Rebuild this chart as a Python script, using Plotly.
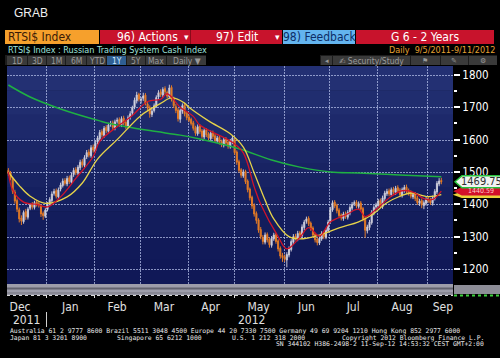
import numpy as np
import pandas as pd
import plotly.graph_objects as go

# ---------------- data ----------------
trade_dates = pd.bdate_range("2011-12-07", "2012-09-11") + pd.Timedelta(hours=12)

opens = [
    1505,1497,1478,1438,1412,1383,1358,1346,1378,1360,1388,1400,1390,1407,1402,1396,1372,1363,
    1384,1402,1412,1434,1442,1423,1447,1458,1474,1463,1482,1468,1492,1508,1496,1513,1532,1520,1547,1562,1550,1577,
    1566,1592,1603,1625,1613,1638,1626,1648,1652,1636,1657,1662,1646,1667,1654,1642,1670,1682,1700,1720,1740,
    1722,1728,1738,1710,1700,1678,1690,1703,1732,1748,1738,1758,1746,1733,1762,1728,1702,1692,1663,1688,1708,1682,
    1670,1663,1652,1637,1618,1642,1627,1608,1630,1617,1603,1622,1612,1596,1607,1594,1583,1602,1592,1578,1593,
    1600,1562,1532,1507,1488,1502,1472,1447,1422,1397,1372,1352,1322,1298,1283,1307,1292,1273,1293,1307,1287,1264,1242,
    1238,1228,1243,1260,1283,1302,1293,1312,1303,1328,1347,1357,1342,1327,1307,1292,1280,1293,1312,1298,1318,
    1347,1383,1407,1397,1382,1367,1356,1372,1360,1373,1388,1402,1407,1393,1404,1387,1357,1318,1328,1343,1373,1392,
    1396,1412,1393,1418,1433,1442,1430,1447,1436,1452,1444,1428,1443,1454,1442,1437,1423,1432,1420,1403,1412,1396,1403,
    1417,1414,1403,1418,1438,1463,1474,
]
highs = [
    1512,1503,1482,1445,1418,1390,1366,1381,1386,1391,1404,1407,1411,1413,1409,1400,1378,1388,
    1407,1422,1440,1448,1449,1452,1467,1480,1481,1488,1489,1497,1513,1515,1522,1538,1540,1552,1568,1570,1583,1585,
    1598,1612,1630,1632,1642,1645,1652,1658,1659,1662,1668,1669,1672,1674,1660,1675,1688,1705,1730,1748,1745,
    1732,1745,1744,1716,1706,1695,1712,1737,1753,1756,1762,1765,1752,1770,1768,1733,1710,1698,1696,1712,1714,1688,
    1677,1668,1658,1643,1647,1648,1633,1635,1636,1623,1628,1628,1618,1612,1613,1600,1607,1608,1598,1602,1612,
    1604,1567,1538,1512,1508,1507,1477,1452,1427,1403,1378,1357,1330,1305,1313,1313,1298,1302,1312,1312,1292,1270,1250,
    1245,1252,1270,1292,1308,1309,1318,1318,1338,1352,1362,1363,1347,1332,1312,1298,1302,1317,1318,1327,1352,
    1392,1412,1413,1402,1388,1372,1377,1378,1382,1397,1407,1412,1413,1409,1410,1392,1362,1337,1352,1382,1397,1405,
    1417,1418,1427,1442,1448,1449,1452,1454,1457,1459,1450,1452,1460,1461,1449,1443,1437,1438,1426,1417,1418,1412,1422,
    1424,1420,1427,1447,1472,1481,1482,
]
lows = [
    1488,1474,1432,1402,1376,1344,1336,1340,1352,1353,1382,1384,1384,1393,1390,1361,1352,1358,
    1378,1396,1405,1427,1418,1416,1440,1452,1458,1456,1463,1462,1485,1490,1490,1506,1514,1514,1540,1545,1544,1560,
    1560,1585,1597,1607,1606,1620,1619,1640,1630,1629,1650,1640,1639,1645,1632,1635,1662,1676,1694,1712,1718,
    1712,1720,1706,1690,1668,1670,1684,1698,1725,1732,1730,1740,1728,1726,1718,1698,1682,1656,1652,1680,1672,1660,
    1654,1644,1628,1612,1612,1618,1603,1602,1608,1598,1596,1602,1590,1590,1585,1577,1576,1583,1572,1572,1586,
    1553,1522,1498,1482,1482,1463,1437,1412,1386,1362,1340,1312,1292,1276,1276,1282,1266,1266,1287,1278,1254,1232,1222,
    1222,1205,1236,1254,1277,1288,1286,1298,1296,1320,1340,1333,1318,1298,1282,1273,1274,1287,1292,1292,1312,
    1340,1377,1388,1372,1357,1350,1349,1355,1353,1366,1381,1395,1388,1386,1378,1347,1297,1310,1320,1337,1366,1385,
    1390,1388,1386,1411,1426,1425,1423,1431,1429,1435,1422,1421,1436,1433,1427,1418,1416,1410,1398,1395,1388,1385,1396,
    1405,1398,1396,1412,1432,1456,1462,
]
closes = [
    1495,1480,1440,1410,1385,1355,1348,1375,1362,1385,1398,1392,1405,1400,1398,1370,1365,1382,
    1400,1415,1432,1440,1425,1445,1460,1472,1465,1480,1470,1490,1505,1498,1515,1530,1522,1545,1560,1552,1575,1568,
    1590,1605,1622,1615,1635,1628,1645,1650,1638,1655,1660,1648,1665,1652,1640,1668,1680,1698,1722,1738,1725,
    1725,1735,1712,1698,1680,1688,1705,1730,1745,1740,1755,1748,1735,1760,1725,1705,1690,1665,1690,1705,1680,1668,
    1660,1650,1635,1620,1640,1625,1610,1628,1615,1605,1620,1610,1598,1605,1592,1585,1600,1590,1580,1595,1605,
    1560,1530,1505,1490,1500,1470,1445,1420,1395,1370,1350,1320,1300,1285,1305,1290,1275,1295,1305,1285,1262,1240,1235,
    1230,1245,1262,1285,1300,1295,1310,1305,1330,1345,1355,1340,1325,1305,1290,1282,1295,1310,1300,1320,1345,
    1385,1405,1395,1380,1365,1358,1370,1362,1375,1390,1400,1405,1395,1402,1385,1355,1320,1330,1345,1375,1390,1398,
    1410,1395,1420,1435,1440,1432,1445,1438,1450,1442,1430,1445,1452,1440,1435,1425,1430,1418,1405,1410,1398,1405,1415,
    1412,1405,1420,1440,1465,1472,1469.75,
]

# moving averages read at sample dates
red_dates = ["2011-12-07","2011-12-09","2011-12-16","2011-12-26","2012-01-02","2012-01-10","2012-01-19",
             "2012-01-31","2012-02-03","2012-02-16","2012-02-24","2012-03-06","2012-03-14","2012-03-19",
             "2012-03-27","2012-04-04","2012-04-09","2012-04-30","2012-05-07","2012-05-14","2012-05-17",
             "2012-05-29","2012-06-04","2012-06-12","2012-06-18","2012-06-25","2012-07-02","2012-07-11",
             "2012-07-19","2012-07-24","2012-08-01","2012-08-09","2012-08-16","2012-08-23","2012-08-30",
             "2012-09-05","2012-09-11"]
red_vals = [1500,1444,1407,1400,1392,1423,1480,1548,1595,1645,1675,1718,1725,1742,1700,1672,1645,
            1592,1559,1454,1400,1300,1262,1298,1328,1302,1345,1367,1385,1362,1390,1425,1442,1438,
            1418,1415,1441]
yellow_dates = ["2011-12-07","2011-12-14","2011-12-21","2011-12-30","2012-01-13","2012-01-24","2012-02-02",
                "2012-02-15","2012-03-01","2012-03-14","2012-03-21","2012-03-29","2012-04-02","2012-04-13",
                "2012-04-27","2012-05-07","2012-05-14","2012-05-21","2012-05-25","2012-06-05","2012-06-12",
                "2012-06-25","2012-07-06","2012-07-19","2012-07-27","2012-08-07","2012-08-15","2012-08-22",
                "2012-09-03","2012-09-11"]
yellow_vals = [1500,1458,1425,1403,1423,1466,1540,1600,1675,1712,1729,1713,1700,1658,1618,1577,1497,
               1413,1355,1300,1293,1305,1327,1346,1367,1405,1425,1435,1424,1430]
green_dates = ["2011-12-07","2011-12-21","2012-01-10","2012-02-03","2012-02-09","2012-03-07","2012-03-27",
               "2012-04-09","2012-05-03","2012-05-24","2012-06-12","2012-07-02","2012-07-19","2012-08-15",
               "2012-09-11"]
green_vals = [1769,1732,1695,1658,1651,1628,1614,1602,1572,1537,1515,1500,1497,1491,1485]

month_label_dates = ["2011-12-14 21:00","2012-01-17 00:00","2012-02-15 12:00","2012-03-16 00:00",
                     "2012-04-16 12:00","2012-05-16 12:00","2012-06-15 12:00","2012-07-17 00:00",
                     "2012-08-16 12:00","2012-09-12 06:00"]
month_labels = ["Dec","Jan","Feb","Mar","Apr","May","Jun","Jul","Aug","Sep"]
month_starts = ["2012-01-02","2012-02-01","2012-03-01","2012-04-02","2012-05-01","2012-06-01",
                "2012-07-02","2012-08-01","2012-09-03"]
y_ticks = [1200, 1300, 1400, 1500, 1600, 1700, 1800]
last_price = 1469.75
red_last, yellow_last = 1440.59, 1430

# ---------------- layout helpers ----------------
L, R, T, B = 7, 453, 66, 284
def px(x): return (x - L) / (R - L)
def py(y): return (B - y) / (B - T)

NARROW = "Liberation Sans Narrow, DejaVu Sans Condensed, Arial Narrow, sans-serif"
MONO = "DejaVu Sans Mono, Liberation Mono, monospace"
COND = "DejaVu Sans Condensed, DejaVu Sans, sans-serif"
GRID = "rgba(185,195,235,0.72)"

def shift(lst):
    return pd.to_datetime(lst, format="ISO8601") + pd.Timedelta(hours=12)

x_lo, x_hi = pd.Timestamp("2011-12-06 21:00"), pd.Timestamp("2012-09-18 21:00")
# business-day span of the visible window (weekends are collapsed on the axis)
span_days = 0.125 + np.busday_count("2011-12-07", "2012-09-18") + 0.875
def day_frac(d):
    return (0.125 + np.busday_count("2011-12-07", d)) / span_days

fig = go.Figure()
fig.add_trace(go.Candlestick(
    x=trade_dates, open=opens, high=highs, low=lows, close=closes,
    increasing=dict(line=dict(color="#c9c9d8", width=1), fillcolor="#e8e8f2"),
    decreasing=dict(line=dict(color="#e27a26", width=1), fillcolor="#e27a26"),
    whiskerwidth=0, hoverinfo="skip", showlegend=False))
fig.add_trace(go.Scatter(x=shift(green_dates), y=green_vals, mode="lines",
                         line=dict(color="#1fb043", width=1.5, shape="spline"), hoverinfo="skip"))
fig.add_trace(go.Scatter(x=shift(yellow_dates), y=yellow_vals, mode="lines",
                         line=dict(color="#e6d34a", width=1.3, shape="spline"), hoverinfo="skip"))
fig.add_trace(go.Scatter(x=shift(red_dates), y=red_vals, mode="lines",
                         line=dict(color="#d0142a", width=1.3, shape="spline"), hoverinfo="skip"))

shapes = []
def rect(x0, y0, x1, y1, color, layer="above"):
    shapes.append(dict(type="rect", xref="paper", yref="paper", x0=px(x0), x1=px(x1),
                       y0=py(y0), y1=py(y1), fillcolor=color, line=dict(width=0), layer=layer))

# background gradient of plot (paper shapes below everything; plot bg is transparent)
bands = ["#233073", "#202d6f", "#1d296b", "#1a2667", "#182363", "#152060", "#131d5c", "#111a59", "#101857"]
n = len(bands)
for k, c in enumerate(bands):
    y0 = T + (B - T) * k / n
    y1 = T + (B - T) * (k + 1) / n
    rect(L, y0, R, y1 + 0.5, c, layer="below")

# grid (dotted, over the background, under the price marks)
for v in y_ticks:
    yy = B - (v - 1153.6) / (1827.8 - 1153.6) * (B - T)
    shapes.append(dict(type="line", xref="paper", yref="paper", x0=0, x1=1, y0=py(round(yy) + 0.5),
                       y1=py(round(yy) + 0.5), layer="below", line=dict(color=GRID, width=1, dash="2px,1px")))
month_fracs = [day_frac(d) for d in month_starts]
for f in month_fracs:
    xx = round(L + f * (R - L)) + 0.5
    shapes.append(dict(type="line", xref="paper", yref="paper", x0=px(xx), x1=px(xx), y0=0, y1=1, layer="below",
                       line=dict(color=GRID, width=1, dash="2px,1px")))
    # small tick marks under the hidden panel
    shapes.append(dict(type="line", xref="paper", yref="paper", x0=px(xx), x1=px(xx), y0=py(294), y1=py(298),
                       line=dict(color="#e0e0e0", width=1), layer="above"))

# header
rect(5, 30, 99, 44, "#f6a02c")
rect(100, 30, 282, 44, "#c8132c")
rect(190, 30, 191, 44, "#8a0a1a")
rect(283, 30, 355, 44, "#63b4ee")
rect(356, 30, 494, 44, "#c8132c")
# toolbar
rect(5, 55, 206, 65, "#1c1c1c")
btns = [(7, 27), (28, 46), (47, 65), (66, 86), (87, 106), (107, 126), (127, 145), (146, 166), (167, 206)]
for i, (a, b) in enumerate(btns):
    rect(a, 56, b, 65, "#2f5f93" if i == 5 else "#3a3a3a")
rect(320, 55, 497, 65, "#1c1c1c")
for (a, b) in [(321, 332), (333, 410), (411, 440), (441, 468), (469, 497)]:
    rect(a, 56, b, 65, "#3a3a3a")

# bottom strip (hidden panel)
rect(L, 284, R, 295, "#9d9daa")
rect(L, 287.5, R, 289.5, "#62626e")
rect(L, 292.5, R, 293.5, "#75757f")
shapes.append(dict(type="line", xref="paper", yref="paper", x0=px(L), x1=px(R), y0=py(295.5), y1=py(295.5),
                   line=dict(color="#d8d8d8", width=1, dash="dot")))
rect(454, 285, 500, 294, "#8e8e98")
shapes.append(dict(type="line", xref="paper", yref="paper", x0=px(454), x1=px(500), y0=py(295.5), y1=py(295.5),
                   line=dict(color="#3fd13f", width=2, dash="dot")))
# year separator (at the 2011/2012 boundary)
xsep = round(L + month_fracs[0] * (R - L)) + 0.5
shapes.append(dict(type="line", xref="paper", yref="paper", x0=px(xsep), x1=px(xsep),
                   y0=py(312), y1=py(327), line=dict(color="#d0d0d0", width=1)))

# price tags on the right
def tag(yc_val, h_px, fill, border):
    half = h_px / 2 * (600 / 194)
    xt, xb, xe = px(455), px(462), px(501)
    path = (f"M {xt},{yc_val} L {xb},{yc_val + half} L {xe},{yc_val + half} "
            f"L {xe},{yc_val - half} L {xb},{yc_val - half} Z")
    shapes.append(dict(type="path", xref="paper", yref="y", path=path, fillcolor=fill,
                       line=dict(color=border, width=1.5), layer="above"))
tag(yellow_last, 5, "#e8d23c", "#e8d23c")
tag(red_last, 7, "#d2102a", "#d2102a")
tag(last_price, 12, "#f2f2f2", "#27c23c")

annotations = []
def text(x, y, s, size=11, color="white", anchor="left", font=NARROW, yanchor="middle"):
    annotations.append(dict(x=px(x), y=py(y), xref="paper", yref="paper", text=s, showarrow=False,
                            xanchor=anchor, yanchor=yanchor, font=dict(size=size, color=color, family=font)))

text(12, 12.5, "GRAB", 12, "#f0f0f0", font="Liberation Sans, Arial, sans-serif")
text(6, 37, "RTSI$ Index", 12, "#3a1a06")
text(147, 37, "96) Actions", 12, "#ffffff", "center")
text(186, 37, "▾", 9, "#ffffff", "center", font="DejaVu Sans")
text(237, 37, "97) Edit", 12, "#ffffff", "center")
text(277, 37, "▾", 9, "#ffffff", "center", font="DejaVu Sans")
text(319, 37, "98) Feedback", 12, "#0d2d66", "center")
text(425, 37.5, "G 6 - 2 Years", 12, "#ffffff", "center")
text(6, 49.5, "RTSI$ Index : Russian Trading System Cash Index", 9, "#9fe3de", font=COND)
text(497, 49.5, "Daily &nbsp;9/5/2011-9/11/2012", 9, "#e5a233", "right", font=COND)
for (a, b), s in zip(btns, ["1D", "3D", "1M", "6M", "YTD", "1Y", "5Y", "Max", "Daily ▼"]):
    text((a + b) / 2, 60.5, s, 8.5, "#cfe9ff" if s == "1Y" else "#9a9a9a", "center", font=COND)
text(327, 60.5, "◂", 7, "#9a9a9a", "center", font="DejaVu Sans")
text(371, 60.5, "✍ Security/Study", 8.5, "#9a9a9a", "center", font=COND)
text(425, 60.5, "⚑", 7, "#9a9a9a", "center", font="DejaVu Sans")
text(454, 60.5, "✎", 7, "#9a9a9a", "center", font="DejaVu Sans")
text(483, 60.5, "⚙", 7, "#9a9a9a", "center", font="DejaVu Sans")

# tag labels
annotations.append(dict(x=px(481), y=last_price, xref="paper", yref="y", text="1469.75", showarrow=False,
                        xanchor="center", yanchor="middle", font=dict(size=11, color="#303030", family=NARROW)))
annotations.append(dict(x=px(481), y=red_last, xref="paper", yref="y", text="1440.59", showarrow=False,
                        xanchor="center", yanchor="middle", font=dict(size=7, color="#ffc8c8", family=NARROW)))

# years
text(26, 320, "2011", 12, "#e0e0e0", "center")
text(251, 320, "2012", 12, "#e0e0e0", "center")

# footer
FS = 6.4
text(8, 331, "Australia 61 2 9777 8600 Brazil 5511 3048 4500 Europe 44 20 7330 7500 Germany 49 69 9204 1210 Hong Kong 852 2977 6000", FS, "#e8e8e8", font=MONO)
text(8, 337.6, "Japan 81 3 3201 8900", FS, "#e8e8e8", font=MONO)
text(115, 337.6, "Singapore 65 6212 1000", FS, "#e8e8e8", font=MONO)
text(230, 337.6, "U.S. 1 212 318 2000", FS, "#e8e8e8", font=MONO)
text(486, 337.6, "Copyright 2012 Bloomberg Finance L.P.", FS, "#e8e8e8", "right", font=MONO)
text(486, 344.2, "SN 344102 H386-2498-2 11-Sep-12 14:53:32 CEST GMT+2:00", FS, "#e8e8e8", "right", font=MONO)

fig.update_layout(
    width=500, height=358,
    margin=dict(l=L, r=500 - R, t=T, b=358 - B, pad=0),
    paper_bgcolor="#000000", plot_bgcolor="rgba(0,0,0,0)",
    showlegend=False, hovermode=False,
    shapes=shapes, annotations=annotations,
    xaxis=dict(
        type="date",
        range=[x_lo, x_hi],
        rangebreaks=[dict(bounds=["sat", "mon"])],
        rangeslider=dict(visible=False),
        tickmode="array", tickvals=pd.to_datetime(month_label_dates, format="ISO8601"), ticktext=month_labels,
        ticks="outside", ticklen=12, tickcolor="rgba(0,0,0,0)",
        tickfont=dict(size=12, color="#e0e0e0", family=NARROW),
        showgrid=False, zeroline=False, showline=False,
        fixedrange=True,
    ),
    yaxis=dict(
        side="right", range=[1153.6, 1827.8],
        tickmode="array", tickvals=y_ticks, ticktext=[str(v) for v in y_ticks],
        ticks="outside", ticklen=6, tickwidth=2, tickcolor="#ffffff",
        tickfont=dict(size=11.5, color="#ffffff", family=NARROW),
        showgrid=False, zeroline=False, showline=False,
        minor=dict(dtick=50, tick0=1150, ticks="outside", ticklen=3, tickcolor="#ffffff", showgrid=False),
        fixedrange=True,
    ),
)

fig.write_html("out.html")
